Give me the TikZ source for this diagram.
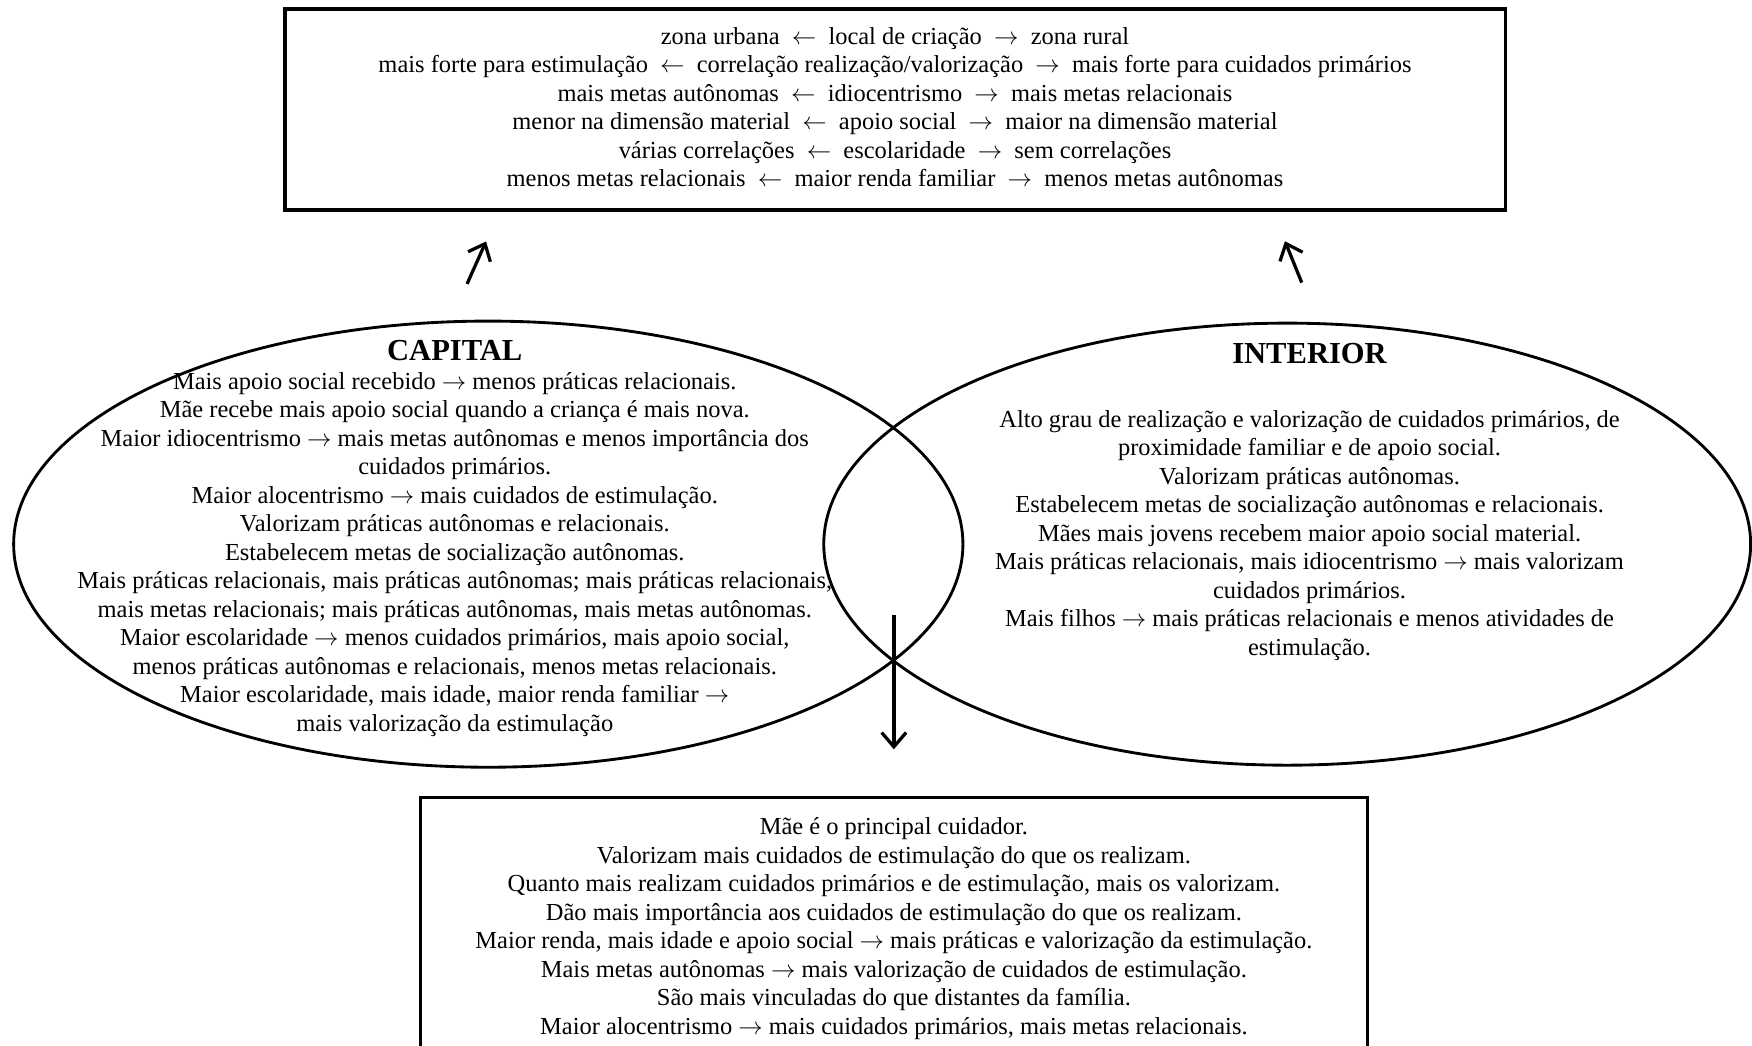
\documentclass[tikz,border=0pt]{standalone}
\usepackage{fontspec}
\setmainfont{Liberation Serif}
\usetikzlibrary{calc,arrows.meta,shapes.geometric}
\newcommand\ra{$\rightarrow$}
\newcommand\la{$\leftarrow$}
\begin{document}
\begin{tikzpicture}[x=0.5485pt,y=-0.5485pt,
    box/.style={draw,line width=1.6pt,inner sep=0pt},
    oval/.style={draw,ellipse,line width=1.4pt,inner sep=0pt},
    txt/.style={align=center,font=\fontsize{12}{14}\selectfont},
    arr/.style={line width=1.6pt,-{Straight Barb[length=7pt,width=12pt,line width=1.6pt]}}]
    \useasboundingbox (0,0) rectangle (1568,936);

    \node [box,minimum width=599pt,minimum height=98.7pt] (top) at (801,98) {};
    \node [oval,minimum width=466pt,minimum height=219pt] (capital) at (437,487) {};
    \node [oval,minimum width=455pt,minimum height=217pt] (interior) at (1152,487) {};
    \node [box,minimum width=465pt,minimum height=125pt] (result) at (800,828) {};

    \node [txt] (toptext) at ($(top)+(0,-2)$) {zona urbana ~\la~ local de criação ~\ra~ zona rural\\
        mais forte para estimulação ~\la~ correlação realização/valorização ~\ra~ mais forte para cuidados primários\\
        mais metas autônomas ~\la~ idiocentrismo ~\ra~ mais metas relacionais\\
        menor na dimensão material ~\la~ apoio social ~\ra~ maior na dimensão material\\
        várias correlações ~\la~ escolaridade ~\ra~ sem correlações\\
        menos metas relacionais ~\la~ maior renda familiar ~\ra~ menos metas autônomas};

    \node [txt] (capitaltext) at ($(capital)+(-30,-5)$) {{\fontsize{15}{17}\selectfont\bfseries CAPITAL}\\
        Mais apoio social recebido \ra{} menos práticas relacionais.\\
        Mãe recebe mais apoio social quando a criança é mais nova.\\
        Maior idiocentrismo \ra{} mais metas autônomas e menos importância dos\\
        cuidados primários.\\
        Maior alocentrismo \ra{} mais cuidados de estimulação.\\
        Valorizam práticas autônomas e relacionais.\\
        Estabelecem metas de socialização autônomas.\\
        Mais práticas relacionais, mais práticas autônomas; mais práticas relacionais,\\
        mais metas relacionais; mais práticas autônomas, mais metas autônomas.\\
        Maior escolaridade \ra{} menos cuidados primários, mais apoio social,\\
        menos práticas autônomas e relacionais, menos metas relacionais.\\
        Maior escolaridade, mais idade, maior renda familiar \ra\\
        mais valorização da estimulação};

    \node [txt] (interiortext) at ($(interior)+(20,-38)$) {{\fontsize{15}{17}\selectfont\bfseries INTERIOR}\\[17.3pt]
        Alto grau de realização e valorização de cuidados primários, de\\
        proximidade familiar e de apoio social.\\
        Valorizam práticas autônomas.\\
        Estabelecem metas de socialização autônomas e relacionais.\\
        Mães mais jovens recebem maior apoio social material.\\
        Mais práticas relacionais, mais idiocentrismo \ra{} mais valorizam\\
        cuidados primários.\\
        Mais filhos \ra{} mais práticas relacionais e menos atividades de\\
        estimulação.};

    \node [txt] (resulttext) at ($(result)+(0,3)$) {Mãe é o principal cuidador.\\
        Valorizam mais cuidados de estimulação do que os realizam.\\
        Quanto mais realizam cuidados primários e de estimulação, mais os valorizam.\\
        Dão mais importância aos cuidados de estimulação do que os realizam.\\
        Maior renda, mais idade e apoio social \ra{} mais práticas e valorização da estimulação.\\
        Mais metas autônomas \ra{} mais valorização de cuidados de estimulação.\\
        São mais vinculadas do que distantes da família.\\
        Maior alocentrismo \ra{} mais cuidados primários, mais metas relacionais.};

    \draw [arr] ($(capital.north)+(-19,-32)$) -- ($(capital.north)+(-2,-70)$);
    \draw [arr] ($(interior.north)+(13,-35)$) -- ($(interior.north)+(-2,-72)$);
    \draw [arr] ($(result.north)+(0,-162)$) -- ($(result.north)+(0,-42)$);
\end{tikzpicture}
\end{document}
